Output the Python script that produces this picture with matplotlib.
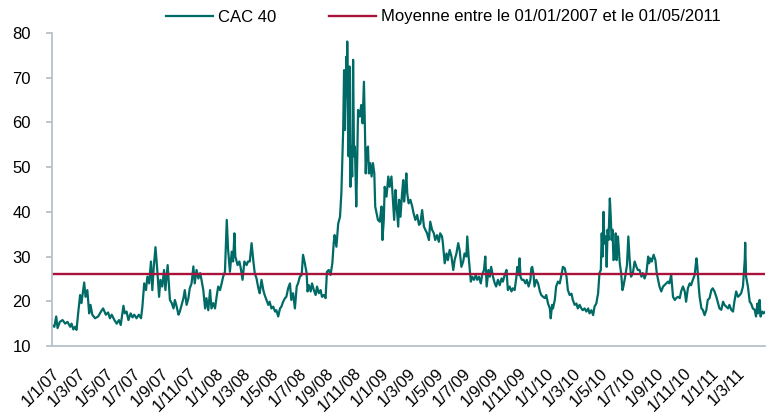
import matplotlib
matplotlib.use('Agg')
import matplotlib.pyplot as plt
import pandas as pd

plt.rcParams['font.family'] = ['Liberation Sans', 'DejaVu Sans']

# ---------------- data ----------------
start_date = '2007-01-01'
end_date = '2011-05-02'
series_label = 'CAC 40'
mean_label = 'Moyenne entre le 01/01/2007 et le 01/05/2011'
mean_value = 26.0
y_ticks = [10, 20, 30, 40, 50, 60, 70, 80]
tick_dates = pd.date_range('2007-01-01', '2011-03-01', freq='2MS')

# observation dates, days since 2007-01-01
day_offsets = [
    0, 6, 10, 13, 18, 24, 30, 35, 41, 44,
    48, 52, 55, 59, 63, 66, 72, 75, 79, 83,
    86, 90, 96, 103, 111, 114, 120, 125, 129, 133,
    139, 144, 149, 153, 159, 162, 166, 170, 175, 179,
    183, 188, 193, 198, 201, 205, 209, 212, 216, 220,
    223, 226, 230, 234, 238, 241, 245, 249, 252, 257,
    262,
    266, 270, 273, 277, 281, 284, 288, 292, 295, 299,
    303, 306, 310, 314, 317, 321, 325, 329, 332, 336,
    340, 343, 347, 351, 354, 358, 362, 365, 369, 373,
    376, 380, 384, 388, 391, 395, 399, 402, 405, 407,
    412, 416, 419, 423, 427, 432, 435, 439, 443, 447,
    450, 454, 458, 461, 465, 469, 472, 476, 480, 483,
    487, 491, 495, 498, 502, 506, 509, 513, 517, 520,
    524, 528,
    531, 535, 539, 543, 546, 550, 554, 557, 561, 565,
    567, 570, 574, 577, 581, 585, 588, 592, 596, 599,
    603, 607, 610, 614, 618, 622, 625, 627, 631, 635,
    639, 642, 646, 648, 650, 653, 654, 655, 658, 660,
    662, 664, 666, 668, 670, 672, 675, 677, 679, 683,
    686, 689, 692, 694, 696, 698, 701, 703, 706, 709,
    712, 715, 717, 720, 723, 727, 731, 733, 736, 738,
    742, 746, 749,
    753, 757, 759, 762, 764, 768, 770, 773, 776, 779,
    781, 784, 786, 788, 791, 795, 799, 802, 806, 810,
    814, 817, 821, 825, 828, 832, 836, 839, 843, 847,
    850, 854, 858, 861, 865, 867, 871, 875, 878, 882,
    886, 890, 893, 897, 901, 904, 908, 912, 915, 919,
    921, 924, 926, 929, 932, 936, 940, 943, 947, 951,
    954, 958, 961, 964, 968, 971, 974, 978, 982, 985,
    989, 993, 997, 1000, 1004, 1008, 1011, 1015, 1019, 1022,
    1026,
    1030, 1032, 1035, 1037, 1039, 1042, 1046, 1050, 1053, 1057,
    1061, 1063, 1065, 1068, 1070, 1074, 1078, 1082, 1085, 1089,
    1093, 1096, 1100, 1104, 1106, 1109, 1111, 1115, 1118, 1122,
    1126, 1129, 1133, 1137, 1141, 1144, 1148, 1152, 1155, 1159,
    1163, 1166, 1170, 1174, 1177, 1181, 1185, 1189, 1192, 1196,
    1200, 1203, 1207, 1211, 1214, 1217, 1219, 1221, 1223, 1225,
    1228, 1230, 1232, 1234, 1237, 1239, 1241, 1243, 1245, 1248,
    1250, 1252, 1255, 1259, 1262, 1265, 1267, 1271, 1275, 1278,
    1281, 1284, 1288, 1292, 1296, 1299, 1303,
    1307, 1310, 1314, 1318, 1322, 1324, 1327, 1330, 1334, 1338,
    1341, 1344, 1347, 1351, 1355, 1358, 1362, 1366, 1369, 1373,
    1377, 1381, 1384, 1388, 1392, 1395, 1399, 1403, 1406, 1410,
    1414, 1417, 1421, 1425, 1429, 1431, 1434, 1436, 1440, 1443,
    1447, 1451, 1454, 1458, 1462, 1465, 1469, 1473, 1477, 1480,
    1484, 1488, 1491, 1495, 1499, 1502, 1506, 1510, 1513, 1517,
    1521, 1525, 1528, 1532, 1536, 1537, 1539, 1543, 1547, 1550,
    1554, 1558, 1561, 1564, 1566, 1569, 1571, 1575, 1578, 1582,
]

cac40_vol = [
    14.7, 14.3, 16.6, 14.0, 15.4, 15.8, 15.0, 15.4, 14.3, 15.0,
    13.7, 14.3, 13.6, 17.7, 21.4, 19.6, 24.2, 21.0, 22.5, 17.3,
    19.2, 17.0, 16.2, 16.6, 18.0, 18.4, 17.0, 17.5, 16.2, 17.0,
    15.8, 15.0, 15.8, 14.7, 19.0, 17.3, 17.7, 15.8, 17.3, 16.4,
    17.0, 16.2, 17.0, 16.2, 18.8, 24.0, 22.5, 25.5, 24.0, 28.9,
    22.5, 27.4, 32.1, 27.0, 21.0, 24.8, 23.3, 27.0, 22.5, 28.1,
    20.3,
    19.6, 18.4, 20.3, 18.8, 17.0, 17.7, 19.2, 20.7, 22.5, 19.2,
    20.7, 22.9, 24.0, 27.8, 24.0, 27.0, 25.1, 26.3, 24.8, 22.5,
    18.4, 20.7, 18.0, 22.5, 18.4, 19.6, 18.4, 20.7, 23.3, 22.5,
    23.7, 25.5, 26.6, 38.2, 31.5, 26.6, 31.1, 28.9, 35.2, 30.0,
    28.1, 28.9, 27.4, 24.8, 28.9, 28.1, 28.9, 28.9, 33.0, 28.9,
    26.3, 25.1, 22.9, 21.8, 24.8, 22.5, 21.4, 20.3, 19.2, 19.9,
    18.4, 18.8, 17.7, 18.0, 16.6, 18.4, 18.8, 19.9, 20.7, 21.0,
    22.9, 24.0,
    20.3, 21.8, 18.4, 23.3, 24.0, 25.5, 25.9, 30.4, 28.5, 26.3,
    22.2, 23.6, 22.2, 24.0, 22.5, 21.4, 23.3, 21.8, 22.5, 21.0,
    21.4, 20.7, 26.6, 27.0, 25.9, 28.5, 33.0, 34.8, 32.2, 37.4,
    38.9, 44.2, 58.3, 71.7, 58.3, 74.7, 65.8, 78.1, 52.4, 72.5,
    45.6, 54.6, 47.9, 74.0, 52.4, 54.6, 41.2, 50.9, 62.8, 61.3,
    63.9, 59.8, 69.1, 59.8, 48.6, 53.8, 54.6, 48.6, 50.9, 47.9,
    50.9, 48.6, 41.2, 39.7, 38.2, 37.8, 41.2, 33.7, 38.2, 45.6,
    43.4, 47.9, 45.6,
    47.9, 41.2, 38.2, 44.9, 41.9, 36.7, 42.7, 38.9, 43.4, 47.1,
    42.3, 45.6, 48.6, 44.2, 41.9, 42.7, 41.2, 39.7, 38.2, 39.3,
    37.1, 37.4, 40.4, 36.7, 36.0, 35.2, 33.7, 37.8, 36.0, 35.2,
    33.7, 34.8, 33.3, 35.2, 34.5, 33.0, 28.5, 30.7, 29.2, 31.5,
    30.0, 27.0, 29.2, 30.7, 33.0, 31.5, 27.7, 28.9, 30.7, 30.0,
    34.5, 30.0, 27.7, 24.4, 25.5, 24.8, 25.9, 24.8, 25.5, 24.0,
    25.9, 27.0, 30.0, 23.3, 27.0, 25.5, 27.7, 25.5, 24.0, 23.3,
    24.8, 23.6, 25.1, 24.4, 25.9, 27.0, 22.5, 23.3, 22.2, 22.9,
    22.5,
    25.5, 27.7, 25.9, 29.6, 25.5, 24.8, 24.8, 24.0, 24.8, 23.3,
    24.8, 27.4, 27.7, 25.9, 23.3, 24.8, 24.0, 22.2, 21.4, 21.0,
    20.7, 21.4, 19.5, 18.4, 16.2, 19.2, 18.4, 20.3, 23.3, 24.4,
    24.0, 25.5, 27.7, 27.4, 25.5, 22.5, 21.4, 21.7, 20.3, 19.2,
    19.5, 18.4, 19.2, 18.4, 18.0, 18.4, 17.7, 18.4, 17.3, 18.0,
    16.9, 18.8, 19.5, 21.8, 26.3, 27.0, 35.2, 30.0, 40.0, 32.9,
    34.5, 27.7, 36.0, 33.7, 43.0, 38.9, 33.7, 36.0, 29.2, 29.6,
    35.2, 29.2, 34.5, 28.5, 26.3, 22.5, 23.3, 25.5, 28.1, 34.5,
    29.2, 25.5, 26.3, 28.9, 27.7, 27.0, 27.0,
    25.5, 26.3, 25.1, 26.3, 30.0, 28.5, 29.6, 28.9, 30.4, 29.2,
    26.3, 24.8, 23.3, 22.2, 23.3, 23.6, 24.0, 24.4, 24.0, 25.9,
    21.0, 20.3, 20.7, 21.0, 20.7, 22.2, 23.3, 22.2, 19.9, 22.9,
    24.0, 23.6, 24.8, 25.9, 29.6, 27.7, 23.3, 21.0, 18.4, 18.1,
    16.9, 18.1, 20.3, 20.7, 22.5, 22.9, 22.2, 21.0, 19.5, 18.4,
    18.1, 19.9, 19.2, 18.8, 18.4, 19.2, 18.1, 17.7, 19.9, 22.2,
    21.0, 21.4, 21.8, 23.3, 29.2, 33.1, 25.5, 23.3, 19.9, 19.5,
    18.4, 18.1, 16.6, 19.5, 17.3, 20.3, 16.6, 17.7, 17.3, 17.7,
]

assert len(day_offsets) == len(cac40_vol)

# ---------------- styling ----------------
teal = '#006B66'
crimson = '#A8123B'
axis_grey = '#B5C1CB'
fs = 12

fig = plt.figure(figsize=(7.68, 4.18), dpi=100)
ax = fig.add_axes([51.7 / 768, 1 - 346 / 418, (765.5 - 51.7) / 768, (346 - 33) / 418])

dates = pd.Timestamp(start_date) + pd.to_timedelta(day_offsets, unit='D')
ax.plot(dates, cac40_vol, color=teal, lw=1.6, label=series_label)
ax.axhline(mean_value, color=crimson, lw=1.7, label=mean_label)

ax.set_xlim(pd.Timestamp(start_date), pd.Timestamp(end_date))
ax.set_ylim(y_ticks[0], y_ticks[-1])
ax.set_yticks(y_ticks)
ax.set_yticklabels([str(v) for v in y_ticks])

ax.set_xticks(tick_dates)
ax.set_xticklabels([f"{d.day}/{d.month}/{d.strftime('%y')}" for d in tick_dates],
                   rotation=45, ha='right', va='top', rotation_mode='anchor')

for s in ['top', 'right']:
    ax.spines[s].set_visible(False)
for s in ['left', 'bottom']:
    ax.spines[s].set_color(axis_grey)
    ax.spines[s].set_linewidth(1.3)

ax.tick_params(axis='x', length=0, labelsize=fs, pad=14, colors='black')
ax.tick_params(axis='y', direction='out', length=4, width=1.3, color=axis_grey,
               labelsize=fs, pad=11, labelcolor='black')

ax.legend(loc='center left', bbox_to_anchor=(166 / 768, 1 - 17 / 418),
          bbox_transform=fig.transFigure, ncol=2, frameon=False,
          fontsize=fs, handlelength=2.8, handletextpad=0.3,
          columnspacing=3.2, borderpad=0, borderaxespad=0)

fig.savefig('out.png', dpi=100)
